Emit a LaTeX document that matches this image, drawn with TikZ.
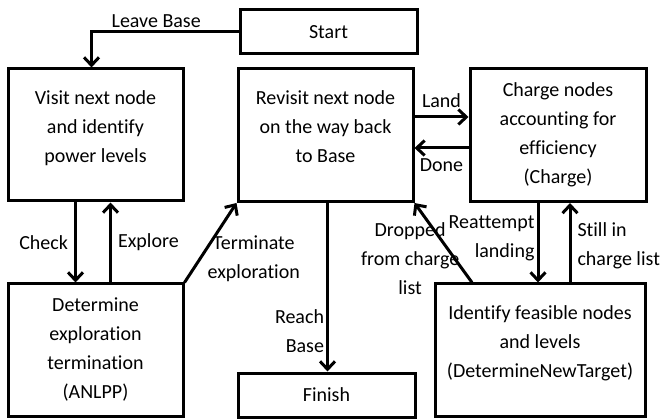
\documentclass[tikz,border=0pt]{standalone}
\usepackage{fontspec}
\setmainfont{Carlito}[Ligatures=NoCommon]
\usetikzlibrary{arrows.meta}
\tikzset{
  state/.style={draw, line width=3pt, align=center, inner sep=0pt},
  flow/.style={line width=3pt, -{Straight Barb[length=8pt,width=15pt,line width=3pt]}},
  tag/.style={align=center, inner sep=2pt}
}
\begin{document}
\begin{tikzpicture}[x=1pt, y=-1pt, font=\fontsize{20}{29}\selectfont]
		%%%%% START %%%%%
		\useasboundingbox (0, 0) rectangle (663, 419);
		
		\node[state, minimum width=177pt, minimum height=44pt] (start) at (328.5, 32) {Start};
		\node[state, minimum width=175pt, minimum height=132pt] (visit) at (95.5, 135) {Visit next node\\and identify\\power levels\\[-12pt]~};
		\node[state, minimum width=175pt, minimum height=133pt] (revisit) at (325.5, 135) {Revisit next node\\on the way back\\to Base\\[-12pt]~};
		\node[state, minimum width=176pt, minimum height=133pt] (charge) at (558, 135) {Charge nodes\\accounting for\\efficiency\\(Charge)};
		\node[state, minimum width=175pt, minimum height=132pt] (anlpp) at (95.5, 350) {Determine\\exploration\\termination\\(ANLPP)};
		\node[state, minimum width=177pt, minimum height=44pt] (finish) at (326.5, 395) {Finish};
		\node[state, minimum width=210pt, minimum height=132pt] (target) at (540, 350) {Identify feasible nodes\\and levels\\(DetermineNewTarget)\\[-12pt]~};
		
		\draw[flow] (start.west) -| node[tag, above, inner sep=3pt, pos=0.28] {Leave Base} ([xshift=-4pt]visit.north);
		\draw[flow] ([xshift=-20pt]visit.south) -- node[tag, left, inner sep=6pt] {Check} ([xshift=-20pt]anlpp.north);
		\draw[flow] ([xshift=15pt]anlpp.north) -- node[tag, right, inner sep=6pt] {Explore} ([xshift=15pt]visit.south);
		\draw[flow] (anlpp.north east) -- node[tag, right, pos=0.3, xshift=4pt] {Terminate\\exploration} (revisit.south west);
		\draw[flow] ([xshift=2pt]revisit.south) -- node[tag, left, align=right, pos=0.76] {Reach\\Base} ([xshift=2pt]revisit.south |- finish.north);
		
		\draw[flow] ([yshift=18pt]revisit.east) -- node[tag, above, inner sep=8pt] {Land} ([yshift=18pt]charge.west);
		\draw[flow] ([yshift=-13pt]charge.west) -- node[tag, below, inner sep=9pt] {Done} ([yshift=-13pt]revisit.east);
		\draw[flow] ([xshift=-20pt]charge.south) -- node[tag, left, align=right, pos=0.45] {Reattempt\\landing} ([xshift=-20pt]charge.south |- target.north);
		\draw[flow] ([xshift=12pt]charge.south |- target.north) -- node[tag, right, align=left, inner sep=6pt, pos=0.46] {Still in\\charge list} ([xshift=12pt]charge.south);
		\draw[flow] ([xshift=-68pt]target.north) -- node[tag, left, pos=0.3, xshift=8pt] {Dropped\\from charge\\list} (revisit.south east);
		
		%%%%% END %%%%%
	\end{tikzpicture}
\end{document}
